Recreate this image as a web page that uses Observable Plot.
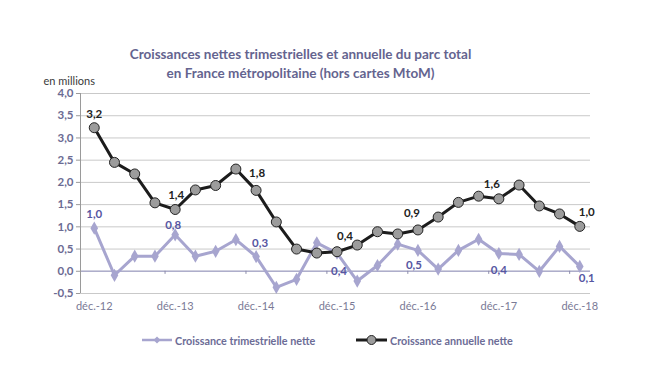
<!DOCTYPE html>
<html>
<head>
<meta charset="utf-8">
<script src="https://cdn.jsdelivr.net/npm/d3@7"></script>
<script src="https://cdn.jsdelivr.net/npm/@observablehq/plot@0.6"></script>
<style>
  html, body { margin: 0; padding: 0; background: #fff; }
  #wrap { position: relative; width: 667px; height: 379px; font-family: Lato, "Open Sans", sans-serif; }
  #title { position: absolute; left: 0; top: 45px; width: 601px; text-align: center; color: #64648f; font-weight: bold; font-size: 13.5px; line-height: 19px; }
  #chart { position: absolute; left: 0; top: 0; }
  #legend { position: absolute; top: 331px; left: 0; width: 667px; height: 18px; font-size: 10.8px; font-weight: bold; color: #6c6c96; }
  .item { position: absolute; top: 0; display: flex; align-items: center; height: 18px; }
  .item svg { display: block; margin-right: 3px; }
</style>
</head>
<body>
<div id="wrap">
  <div id="chart"></div>
  <div id="title">Croissances nettes trimestrielles et annuelle du parc total<br>en France métropolitaine (hors cartes MtoM)</div>
  <div id="legend"></div>
</div>
<script>
// ---- data ----
const quarterIndex = d3.range(25); // déc.-12 ... déc.-18, quarterly
const trimestrielle = [0.97, -0.09, 0.34, 0.34, 0.82, 0.34, 0.45, 0.71, 0.33, -0.36, -0.18, 0.64, 0.41,
                       -0.22, 0.13, 0.61, 0.47, 0.05, 0.47, 0.72, 0.40, 0.38, 0.00, 0.56, 0.11];
const annuelle = [3.23, 2.45, 2.19, 1.54, 1.39, 1.83, 1.93, 2.30, 1.82, 1.11, 0.50, 0.41, 0.44,
                  0.59, 0.89, 0.84, 0.93, 1.22, 1.55, 1.69, 1.63, 1.94, 1.47, 1.29, 1.01];
const xTickIndex = [0, 4, 8, 12, 16, 20, 24];
const xTickLabels = ["déc.-12", "déc.-13", "déc.-14", "déc.-15", "déc.-16", "déc.-17", "déc.-18"];
const yTicks = [-0.5, 0, 0.5, 1, 1.5, 2, 2.5, 3, 3.5, 4];
const labelIndex = [0, 4, 8, 12, 16, 20, 24];
const seriesNames = ["Croissance trimestrielle nette", "Croissance annuelle nette"];
const yUnit = "en millions";

// ---- styles ----
const cTri = "#a7a5cf", cAnn = "#1c1c1c", cDot = "#9c9c9c";
const cTriLabel = "#5656a2", cAnnLabel = "#222", cTick = "#6b6b93";
const fr = v => d3.format(".1f")(v).replace(".", ",").replace("−", "-");
// label offsets (px) per labelled point
const annOffsets = [[0,-13],[1,-14],[1,-17],[8,-15],[-6,-17],[-7,-15],[7,-14]];
const triOffsets = [[0,-14],[-2,-10],[4,-13],[2,18],[-4,15],[0,17],[7,12]];

const tri = quarterIndex.map(i => ({i, v: trimestrielle[i]}));
const ann = quarterIndex.map(i => ({i, v: annuelle[i]}));
const xDomain = [-0.68, 24.53];

const labelMarks = [];
labelIndex.forEach((li, k) => {
  labelMarks.push(Plot.text([ann[li]], {x: "i", y: "v", text: d => fr(d.v), dx: annOffsets[k][0], dy: annOffsets[k][1],
    fill: cAnnLabel, fontWeight: "bold", fontSize: 11.5}));
  labelMarks.push(Plot.text([tri[li]], {x: "i", y: "v", text: d => fr(d.v), dx: triOffsets[k][0], dy: triOffsets[k][1],
    fill: cTriLabel, fontWeight: "bold", fontSize: 11.5}));
});

const chart = Plot.plot({
  width: 667,
  height: 325,
  marginLeft: 80,
  marginRight: 77,
  marginTop: 93,
  marginBottom: 32,
  style: {fontFamily: "Lato, 'Open Sans', sans-serif", background: "transparent"},
  x: {type: "linear", domain: xDomain, axis: null, label: null},
  y: {type: "linear", domain: [-0.5, 4], axis: null, label: null},
  marks: [
    Plot.ruleY(yTicks, {x1: xDomain[0], x2: xDomain[1], stroke: "#c9c9c9", strokeWidth: 1}),
    Plot.ruleY([0], {x1: xDomain[0], x2: xDomain[1], stroke: "#aeaecb", strokeWidth: 1.5}),
    Plot.ruleY(yTicks, {x1: xDomain[0], x2: xDomain[0] - 0.2, stroke: "#9a9a9a"}),
    Plot.ruleX([xDomain[0]], {y1: -0.5, y2: 4, stroke: "#9a9a9a"}),
    Plot.ruleX(xTickIndex.slice(1).map(i => i - 0.5), {y1: 0, y2: -0.07, stroke: "#8c8cab"}),
    Plot.axisY({ticks: yTicks, tickFormat: fr, tickSize: 0, tickPadding: 7, fontWeight: "bold", fontSize: 11.5, fill: cTick, anchor: "left", label: null}),
    Plot.axisX({ticks: xTickIndex, tickFormat: (d, k) => xTickLabels[k], tickSize: 0, tickPadding: 9, fontSize: 11, fill: "#7a7a96", anchor: "bottom", label: null}),
    Plot.line(tri, {x: "i", y: "v", stroke: cTri, strokeWidth: 3}),
    Plot.dot(tri, {x: "i", y: "v", symbol: "diamond", r: 4, fill: cTri}),
    Plot.line(ann, {x: "i", y: "v", stroke: cAnn, strokeWidth: 3}),
    Plot.dot(ann, {x: "i", y: "v", r: 5, fill: cDot, stroke: "#222", strokeWidth: 1}),
    ...labelMarks,
    Plot.text([yUnit], {frameAnchor: "top-left", textAnchor: "start", dx: -37, dy: -16, fill: "#3a3a3a", fontSize: 11})
  ]
});
document.getElementById("chart").appendChild(chart);

// legend
const legend = document.getElementById("legend");
const items = [
  {name: seriesNames[0], left: 142, svg: `<svg width="30" height="10"><line x1="0" y1="5" x2="30" y2="5" stroke="${cTri}" stroke-width="2.5"/><path d="M15 1.5 L18.5 5 L15 8.5 L11.5 5 Z" fill="${cTri}"/></svg>`},
  {name: seriesNames[1], left: 356, svg: `<svg width="31" height="12"><line x1="0" y1="6" x2="31" y2="6" stroke="${cAnn}" stroke-width="3"/><circle cx="15.5" cy="6" r="4.5" fill="${cDot}" stroke="#222"/></svg>`}
];
items.forEach(it => {
  const d = document.createElement("div");
  d.className = "item";
  d.style.left = it.left + "px";
  d.innerHTML = it.svg + `<span>${it.name}</span>`;
  legend.appendChild(d);
});
</script>
</body>
</html>
